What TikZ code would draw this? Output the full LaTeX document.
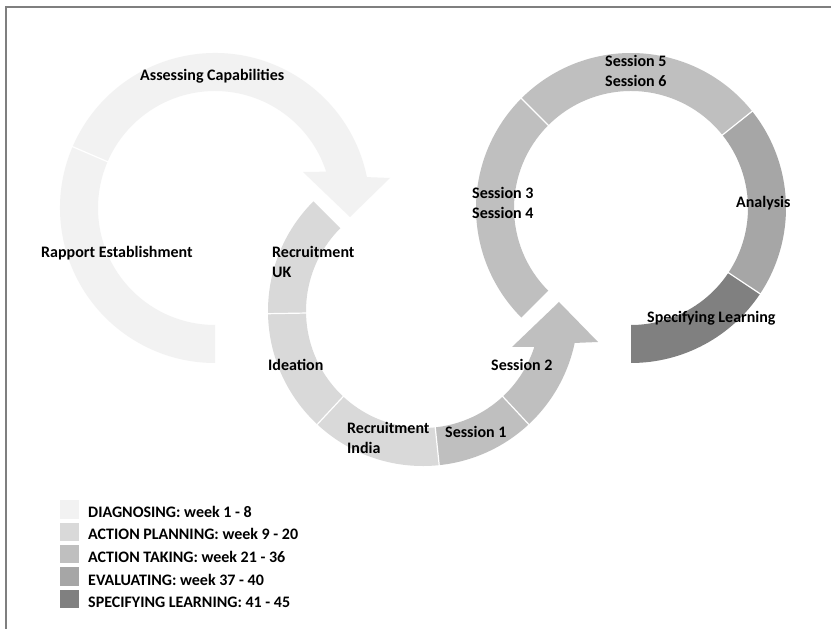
\documentclass[tikz,border=0pt]{standalone}
\usepackage{fontspec}
\setmainfont{Carlito}
\definecolor{diagcol}{HTML}{F2F2F2}
\definecolor{plancol}{HTML}{D9D9D9}
\definecolor{takecol}{HTML}{BFBFBF}
\definecolor{evalcol}{HTML}{A6A6A6}
\definecolor{speccol}{HTML}{808080}
\definecolor{framecol}{HTML}{7F7F7F}
\begin{document}
\begin{tikzpicture}[x=1pt,y=1pt,
  lbl/.style={font=\bfseries\fontsize{16}{20}\selectfont, inner sep=0pt, anchor=base west, align=left, text=black},
  sep/.style={draw=white, line width=1.2pt},
  swatch/.style={minimum width=19pt, minimum height=18.5pt, inner sep=0pt, anchor=north west, draw=none}]
\useasboundingbox (0,0) rectangle (831,629);
\fill[white] (0,0) rectangle (831,629);
\draw[framecol, line width=2pt] (5.5,0) -- (5.5,622.3) -- (831,622.3);

% Circle 1: diagnosing
\begin{scope}[shift={(215,421)}]
  \fill[diagcol] (270:117) arc[start angle=270, end angle=18.1, radius=117]
     -- (88,36) -- (135,-9) -- (175,30) -- (11.5:155)
     arc[start angle=11.5, end angle=270, radius=155] -- cycle;
  \draw[sep] (156.7:114) -- (156.7:158);
\end{scope}

% Circle 2: action planning / action taking
\begin{scope}[shift={(423,318)}]
  \fill[plancol] (135:117) arc[start angle=135, end angle=276, radius=117]
     -- (276:155) arc[start angle=276, end angle=135, radius=155] -- cycle;
  \fill[takecol] (276:117) arc[start angle=276, end angle=342.2, radius=117]
     -- (89,-36) -- (136,9) -- (175,-31) -- (348.1:155)
     arc[start angle=348.1, end angle=276, radius=155] -- cycle;
  \foreach \a in {181,227,276,313} \draw[sep] (\a:114) -- (\a:158);
\end{scope}

% Circle 3: action taking / evaluating / specifying learning
\begin{scope}[shift={(631,421)}]
  \fill[takecol] (225:117) arc[start angle=225, end angle=38.6, radius=117]
     -- (38.6:155) arc[start angle=38.6, end angle=225, radius=155] -- cycle;
  \fill[evalcol] (38.6:117) arc[start angle=38.6, end angle=-33.6, radius=117]
     -- (-33.6:155) arc[start angle=-33.6, end angle=38.6, radius=155] -- cycle;
  \fill[speccol] (-33.6:117) arc[start angle=-33.6, end angle=-90, radius=117]
     -- (-90:155) arc[start angle=-90, end angle=-33.6, radius=155] -- cycle;
  \foreach \a in {135,38.6,-33.6} \draw[sep] (\a:114) -- (\a:158);
\end{scope}

% Labels (multi-line nodes: base = baseline of last line)
\node[lbl] (assess) at (140,548) {Assessing Capabilities};
\node[lbl] (rapport) at (41,371.5) {Rapport Establishment};
\node[lbl] (recuk) at (272,351.5) {Recruitment\\UK};
\node[lbl] (ideation) at (268,258) {Ideation};
\node[lbl] (recin) at (347,175) {Recruitment\\India};
\node[lbl] (s1) at (445,191.7) {Session 1};
\node[lbl] (s2) at (491,258.3) {Session 2};
\node[lbl] (s34) at (472,410.7) {Session 3\\Session 4};
\node[lbl] (s56) at (605,542.3) {Session 5\\Session 6};
\node[lbl] (analysis) at (736,421.7) {Analysis};
\node[lbl] (speclearn) at (647,306.7) {Specifying Learning};

% Legend
\node[swatch, fill=diagcol] (k1) at (60,129) {};
\node[swatch, fill=plancol] (k2) at (60,106.6) {};
\node[swatch, fill=takecol] (k3) at (60,84.2) {};
\node[swatch, fill=evalcol] (k4) at (60,61.8) {};
\node[swatch, fill=speccol] (k5) at (60,39.4) {};
\node[lbl] (t1) at (88,111.7) {DIAGNOSING: week 1 - 8};
\node[lbl] (t2) at (88,89.1) {ACTION PLANNING: week 9 - 20};
\node[lbl] (t3) at (88,66.5) {ACTION TAKING: week 21 - 36};
\node[lbl] (t4) at (88,43.9) {EVALUATING: week 37 - 40};
\node[lbl] (t5) at (88,21.3) {SPECIFYING LEARNING: 41 - 45};
\end{tikzpicture}
\end{document}
